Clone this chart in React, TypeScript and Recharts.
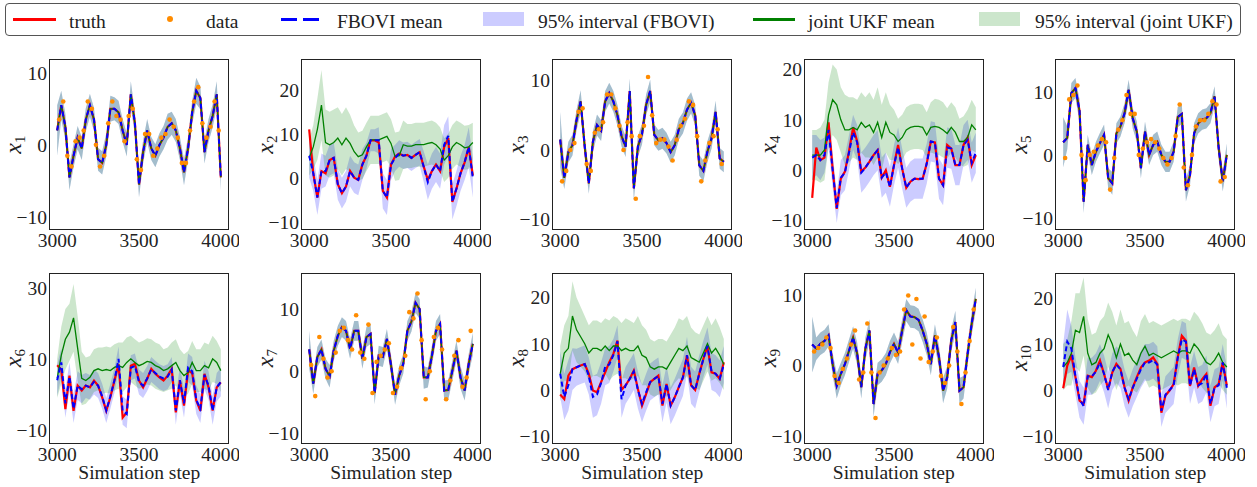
import React from 'react';
import { ComposedChart, Area, Line, Scatter, XAxis, YAxis } from 'recharts';

const FONT = '"Liberation Serif", "DejaVu Serif", serif';

// simulation steps sampled every 25 steps
const STEPS = [
  3000, 3025, 3050, 3075, 3100, 3125, 3150, 3175, 3200, 3225, 3250, 3275, 3300, 3325,
  3350, 3375, 3400, 3425, 3450, 3475, 3500, 3525, 3550, 3575, 3600, 3625, 3650, 3675,
  3700, 3725, 3750, 3775, 3800, 3825, 3850, 3875, 3900, 3925, 3950, 3975, 4000,
];
// steps of the observations shown as dots
const OBS_STEPS = [
  3012, 3037, 3062, 3087, 3112, 3137, 3162, 3187, 3212, 3237, 3262, 3287, 3312, 3337,
  3362, 3387, 3412, 3437, 3462, 3487, 3512, 3537, 3562, 3587, 3612, 3637, 3662, 3687,
  3712, 3737, 3762, 3787, 3812, 3837, 3862, 3887, 3912, 3937, 3962, 3987,
];
const X_TICKS = [3000, 3500, 4000];

// x1 (observed)
const X1_TRUTH = [2, 5.5, 2.5, -4.5, -1.5, 1, -0.5, 3.5, 5.5, 3.5, -2, -2.5, 0, 5, 5, 4.5, 2, 0, 7, 3, -5.5, -1, 2, -0.5, -1.5, 0, 1, 2.5, 3, 2, -0.5, -3.8, -0.5, 4.5, 7.5, 6.5, -1, 2, 4, 7, -4.5];
const X1_OBS = [3.5, 6, -1.5, -3, 0.5, 1, 2, 6, 5, 0, -3, -1.5, 3, 6, 4, 3.5, 0.5, 4, 5, -2, -3.5, 1.5, 1.5, -1.5, -0.5, 1, 1.5, 3.5, 2.5, 1, -2.5, -2.5, 2, 6, 8, 3, 1, 2.5, 6, 2];
const X1_HALF = [3.5, 2, 1.8, 1.8, 1.6, 1.6, 1.6, 1.6, 1.6, 1.6, 1.6, 1.6, 1.6, 1.8, 1.6, 1.6, 1.6, 1.6, 1.8, 1.6, 1.8, 1.6, 1.6, 1.6, 1.6, 1.6, 1.6, 1.8, 1.6, 1.6, 1.6, 1.8, 1.6, 1.6, 1.8, 1.6, 1.6, 1.6, 1.6, 1.8, 1.8];

// x2 (unobserved)
const X2_TRUTH = [11, 1, -4.5, 1.5, 1, 4, 4.5, -1.5, -3.5, -2, 1.5, 0, -0.5, 3, 5, 8.5, 8.5, 8, -3, -4.5, 3, 4.8, 5.5, 5, 5.2, 4.5, 5.2, 5.8, 2.5, -0.5, 1.5, 3, 1.5, 7, 9, -5.5, -2.5, 1, 3.5, 7, 0.5];
const X2_FB = [5, 1, -4.5, 1.5, 1.5, 4, 4.5, -1.5, -3.5, -2, 1.5, 0, -0.5, 3, 5, 8.5, 8.5, 8.5, -3, -4.5, 3, 4.5, 5.5, 5, 5.2, 4.5, 5.2, 5.8, 2.5, -1, 1.5, 3, 1.5, 7.5, 9.5, -5.5, -2.5, 1, 3.5, 7, 0];
const X2_FB_HALF = [5, 4, 4, 4, 3.5, 3.5, 3.5, 3.5, 3.5, 3.5, 3.5, 3.5, 3.5, 3.5, 3, 2.5, 2.5, 3, 4, 4, 3.5, 3, 3, 3, 3, 3, 3, 3, 3.5, 4, 4, 4, 4, 4.5, 4.5, 4, 4, 4, 4, 4.5, 4.5];
const X2_UKF = [4.5, 7, 11, 16.5, 8, 7.5, 8, 9, 7.5, 9, 7.8, 5.9, 4.8, 5.2, 7, 8.6, 8.6, 8.6, 9, 9.4, 7.8, 4.8, 5, 7.5, 7.2, 7.2, 7.5, 7.5, 7.5, 7.8, 8, 7.5, 6.5, 4, 5, 7, 8, 7.5, 6.8, 7, 8];
const X2_UKF_HALF = [4, 5, 7, 8, 7.5, 7.5, 7.5, 7, 7, 7, 6.5, 6, 5.5, 5.5, 5.5, 5.5, 5.5, 5.5, 5.5, 5.5, 5.5, 5.5, 5.5, 5.5, 5, 5, 5, 5, 5, 5, 5, 5, 5, 5, 5, 5, 5, 5, 5, 5, 4.5];

// x3 (observed)
const X3_TRUTH = [1.5, -4, -0.3, 0.7, 4.3, 7, 0.5, -4.8, 1.2, 3.6, 2.8, 7, 8.2, 7, 5, 2, 0.5, 8.5, -5.5, 0.5, 2.3, 6.5, 8.5, 2.2, 1.4, 1.7, 1, -0.3, 0.7, 3, 3.9, 5.8, 6.8, 5, -2.2, -3, -0.2, 1.7, 5.5, -1.2, -1.7];
const X3_OBS = [-4.5, -3, 0, 1, 5.5, 6, -2, -3, 2.5, 3, 4, 8, 8, 6, 3.5, 0, 4, 2, -7, 2, 3.5, 10.5, 5, 1, 1.5, 1.5, 0.5, -1.5, 1.5, 3.5, 4.5, 7, 6.5, 2, -4.5, -1.5, 1, 2, 3, -2];
const X3_HALF = [4, 1.6, 1.5, 1.5, 1.5, 1.6, 1.6, 1.5, 1.5, 1.5, 1.5, 1.5, 1.5, 1.5, 1.5, 1.5, 1.5, 1.8, 1.8, 1.5, 1.5, 1.5, 1.6, 1.5, 1.5, 1.5, 1.5, 1.5, 1.5, 1.5, 1.5, 1.6, 1.5, 1.5, 1.5, 1.5, 1.5, 1.5, 1.6, 1.5, 1.5];

// x4 (unobserved)
const X4_TRUTH = [-5.5, 4.5, 2, 2.5, 9.5, 0.3, -7.7, -1.7, -0.3, 3.7, 8.5, 5.7, -0.3, 0.5, 1.7, 3, 4, -1.5, 0, -3.3, 1, 5, 0.3, -3.5, -2.3, -1.7, -1.8, -1.7, 1.3, 5.7, 5.5, -1.7, -3, 5, 4.3, 1, 1, 5, 6.5, 1, 3];
const X4_FB = [2.5, 3, 2, 3, 8, 0, -7.5, -1.5, -0.5, 3.5, 7.5, 5.5, -0.5, 0.5, 1.7, 3, 4, -1.5, -0.5, -3.3, 1, 4.5, 0.3, -3.5, -2.3, -1.7, -1.7, -1.7, 1.3, 5.7, 5.5, -1.7, -3, 4.5, 4.3, 1, 1, 5, 6, 1.5, 3.5];
const X4_FB_HALF = [4.5, 4, 4, 3.5, 3.5, 3.5, 3, 3.5, 3.5, 3.5, 3.5, 3.5, 4, 4, 4, 4, 4, 4, 4, 4, 4, 4, 4, 4, 4, 4, 4, 4, 4, 4, 4, 4, 4, 4, 4, 4, 4, 4, 4, 4, 4];
const X4_UKF = [3, 3, 3, 4, 11, 14, 13, 10, 8, 8, 8.5, 8, 9.5, 8.5, 9, 7.5, 9.5, 6.5, 9.5, 7.5, 7, 5.7, 6.5, 8, 8.5, 8.7, 8.7, 8.5, 7, 8.5, 8.7, 8.5, 8, 7.3, 8.5, 7.5, 5.7, 5.7, 6.5, 9, 8];
const X4_UKF_HALF = [5, 5, 5.5, 6, 6.5, 7, 7, 6.5, 7, 6.5, 6, 6, 6, 6, 6.5, 6.5, 7, 6.5, 6, 5.5, 5, 4.5, 4.5, 4.5, 4.5, 4.5, 4.5, 4.5, 4.5, 5, 5.5, 5.5, 5.5, 5, 5, 5, 4.5, 5, 5.5, 5, 4.5];

// x5 (observed)
const X5_TRUTH = [2, 2.7, 9.8, 10.6, 7, -7.4, 1.6, -1.6, 0.5, 1.9, 3.2, -3.7, -4.5, 3.4, 4.5, 6.6, 10.3, 5.8, 3.7, -2.1, 3.7, 0, 1.6, 2.1, 0, -1.1, -1.1, 0.5, 6, 6.5, -5.6, -3.2, 3.4, 5, 5.6, 5.8, 6.6, 9.3, 1.1, -4.2, 0];
const X5_OBS = [-0.5, 8.8, 9.5, 11, 0, -4, 0, 0.5, 1.5, 2.5, 2, -5.5, -0.5, 4, 5.5, 9.5, 6.5, 6.5, 0, 1, 2, 2.5, 2, 1, -0.5, -1.5, -0.5, 3, 8, -2, -4.8, 0, 4.5, 5.5, 5.5, 6.5, 8.5, 8, -4.2, -3.5];
const X5_HALF = [4, 1.8, 1.6, 1.6, 1.8, 1.8, 1.6, 1.6, 1.6, 1.6, 1.6, 1.6, 1.8, 1.6, 1.6, 1.6, 1.6, 1.6, 1.6, 1.6, 1.6, 1.6, 1.6, 1.6, 1.6, 1.6, 1.6, 1.6, 1.6, 1.6, 1.8, 1.6, 1.6, 1.6, 1.6, 1.6, 1.6, 1.6, 1.8, 1.6, 1.8];

// x6 (unobserved)
const X6_TRUTH = [8.2, 7, -4.1, 5.3, -4.6, 2.5, 1.1, 2.5, 2, 3.9, 2.5, -0.8, -4.6, -0.8, 3.9, 8.5, -6.5, -5, 8.1, 8.6, 3.9, 2, 4.4, 7.2, 5.8, 4.8, 3.9, 5.3, 7.2, -5, 3.9, -3.1, 6.7, 6, -1.7, -4.6, 5.8, 2, -4.5, 2, 3.4];
const X6_FB = [4, 9, -2.5, 5, -4, 2.5, 1.5, 2.5, 2, 3.5, 2.5, -0.5, -4.5, -0.5, 4, 10, -4.5, -5.5, 7.5, 8, 3.5, 2.5, 4.5, 7, 6, 5, 4.5, 5, 7, -4.5, 4, -2.5, 7.5, 6.5, -1.5, -4, 5.5, 2.5, -4.5, 2, 3.5];
const X6_FB_HALF = [4.5, 4, 4, 4, 4, 4, 4, 3.5, 3.5, 3.5, 3.5, 3.5, 3.5, 3.5, 3.5, 3.5, 4, 4, 3.5, 3.5, 3.5, 3.5, 3.5, 3.5, 3.5, 3.5, 3.5, 3.5, 3.5, 4, 4, 4, 4, 4, 4, 4, 4, 4, 4, 4, 4];
const X6_UKF = [4.5, 11, 15.5, 17.5, 21.5, 13, 4.5, 3.9, 4.8, 6.7, 7.2, 6.7, 7, 6.7, 7.6, 8.1, 7.6, 9, 10, 9, 8.1, 8.6, 9.3, 9, 8.1, 7.6, 6.7, 7.2, 8.1, 9, 6.7, 5.3, 6.2, 9, 6.7, 6.7, 8.1, 7.5, 10, 9, 6.7];
const X6_UKF_HALF = [5.5, 8, 8.5, 8, 9.5, 9, 7.5, 6.5, 6, 6, 6, 6.5, 6.5, 6.5, 6.5, 6.5, 7, 7, 6.5, 6.5, 6.5, 6.5, 6.5, 6.5, 6.5, 6.5, 6, 6, 6.5, 6.5, 6, 6, 6, 6, 6, 6, 6.5, 6.5, 6.5, 6, 6];

// x7 (observed)
const X7_TRUTH = [3.5, -2, 2.3, 3.5, 0.4, -0.8, 3.3, 5.7, 7.1, 6.5, 3.6, 6.5, 6.5, 2, 5.5, 6, -3.5, 2.5, 2.3, 5.2, 1, -3.8, -0.7, 1.2, 6.5, 8, 11, 10, -1, -1, 2.5, 6.5, 7.6, -3.1, -3, 0.1, 3.3, -1, -3.1, 1.2, 4.4];
const X7_OBS = [1, -4, 5.5, 2, -1, 0, 3, 6.5, 7, 5, 3.5, 9, 3, 2, 7.5, -3.5, 1.5, 2.5, 3.5, 4.5, -3.5, -2.5, 0.5, 2.5, 9.5, 8.5, 12.5, 5, -4.5, 0, 5.5, 7, 3.5, -4.5, -1.5, 2.5, 5, -2.5, -1, 6.5];
const X7_HALF = [3, 1.6, 1.6, 1.6, 1.6, 1.8, 1.6, 1.6, 1.6, 1.6, 1.6, 1.6, 1.6, 1.6, 1.6, 1.6, 1.8, 1.6, 1.6, 1.6, 1.6, 1.6, 1.6, 1.6, 1.6, 1.6, 1.6, 1.6, 1.8, 1.6, 1.6, 1.6, 1.6, 1.6, 1.6, 1.6, 1.6, 1.8, 1.6, 1.6, 1.8];

// x8 (unobserved)
const X8_TRUTH = [-1, -2, 3.1, 4.5, 4.9, 5.3, 5.6, 3.5, -0.1, -0.5, 1.7, 3.8, 6, 7.8, 10.7, 0, 1, 2.4, 4.2, 0.2, -3.4, -0.9, 1.7, 2.4, 3.1, -3.4, 1.3, -3.4, -1.6, 0.6, 2.7, 7.5, 1, 0, 3.5, 6.7, 9.5, 3.8, 3.5, 2.4, 6];
const X8_FB = [3.5, -1.5, 1, 4.5, 4.9, 5.3, 5.6, 3, -1.5, -1, 1.5, 5, 5.5, 7.5, 10.5, -2, 1, 2.4, 4, 0, -3, -0.5, 1.7, 2.4, 3, -3, 1.3, -3.4, -1.6, 0.6, 2.7, 7.5, 1, 0, 3.5, 6.7, 9.5, 4, 3.5, 2.4, 5.5];
const X8_FB_HALF = [5, 5, 5.5, 4.5, 4, 4, 4, 4, 4.5, 4.5, 4.5, 4, 4, 3.5, 3.5, 4, 4, 4, 4, 4, 4, 4, 4, 4, 4, 4, 4, 4, 4, 4, 4, 4, 4, 4, 4, 4, 4, 4, 4, 4, 4];
const X8_UKF = [3.5, 8, 9, 16, 13, 11.5, 10, 8, 9, 9, 8.5, 9.5, 8.5, 9.5, 9.5, 8.5, 9, 8.5, 8.5, 9.5, 7.5, 7, 5, 4.5, 5, 5, 4.5, 6, 7.5, 9, 8.5, 9.5, 7, 6.5, 6, 8, 10, 8, 9, 7.5, 5.5];
const X8_UKF_HALF = [6, 6, 7, 7.5, 7, 6.5, 6, 6, 6, 6, 6, 6, 6.5, 6.5, 6, 6, 6.5, 6.5, 6, 6.5, 6.5, 6, 6, 6, 6, 6, 6, 6, 6, 6.5, 6.5, 6.5, 6.5, 6, 6, 6, 6, 6, 6.5, 6, 5.5];

// x9 (observed)
const X9_TRUTH = [3, 2.4, 3.1, 3.5, 4.3, 0.2, -2.9, -1.2, 0.2, 2.1, 4, 1.7, -3.1, 2.4, 5, -5.5, -1.2, -0.7, 0.2, 1.9, 3.1, 1.8, 5, 7.9, 7, 6.9, 6.5, 5, 3.1, 0.2, 4.3, 1.2, -3.6, -1.7, 3.6, 6.2, -3.6, -3.1, 1.7, 6, 9.5];
const X9_OBS = [2, 2.5, 3, 4, 2.5, -1.5, -2.5, -0.5, 1, 3, 5, -2, -1, 6, -1, -7.5, -1, 0, 1, 2.5, 1.5, 2, 8, 10, 3, 9.5, 1, 7, 0.5, 2, 4, -1.5, -2.5, 0, 5.5, 2, -5.5, -1, 3.5, 8];
const X9_HALF = [4, 1.6, 1.6, 1.6, 1.6, 1.6, 1.8, 1.6, 1.6, 1.6, 1.6, 1.6, 1.6, 1.6, 1.6, 1.8, 1.6, 1.6, 1.6, 1.6, 1.6, 1.6, 1.6, 1.6, 1.6, 1.6, 1.6, 1.6, 1.6, 1.6, 1.6, 1.6, 1.8, 1.6, 1.6, 1.6, 1.8, 1.6, 1.6, 1.6, 1.6];

// x10 (unobserved)
const X10_TRUTH = [0.4, 5.3, 7.5, 2.8, -2.3, -3, 3.1, 2.8, 4.2, 6.4, 3.5, 0.2, 3.8, 5.7, 4.6, 0.6, -2.3, 0.6, 2.8, 4.9, 6, 6.4, 7.1, 5.7, -4.9, -1.2, -0.1, 1.3, 7.1, 11.8, 10.7, 0.9, 4.9, 0.9, 2.4, 3.5, -3.4, 0.6, 1.3, 6, 1];
const X10_FB = [5, 10.5, 9, 3, -2, -3.5, 3, 3, 4, 6, 3.5, 0, 4, 5.5, 4.5, 0.5, -2, 0.5, 2.5, 4.5, 6, 6, 6.5, 5.5, -4.5, -1, 0, 1, 7, 11, 10.5, 1, 4.5, 1, 1.5, 3.5, -3, 0.5, 1, 6, 0.5];
const X10_FB_HALF = [5, 7, 5, 4, 4, 4, 4, 4, 4, 4, 4, 4, 4, 4, 4, 4, 4, 4, 4, 4, 4, 4, 4, 4, 3.5, 4, 4, 4, 4, 4, 4, 4, 4, 4, 4, 4, 4, 4, 4, 4, 4.5];
const X10_UKF = [5, 6, 8, 13, 12.5, 16, 8, 5.5, 6, 8, 9, 12, 10, 7, 10, 7.5, 8, 6.5, 5.5, 8, 9.5, 7.5, 8, 7.5, 7, 7.5, 8, 8.5, 8, 8.5, 8.5, 8, 10, 9, 7.5, 6, 5.5, 6.5, 8, 6, 5];
const X10_UKF_HALF = [5, 5, 7, 8, 8.5, 8.5, 7.5, 6.5, 6.5, 7, 7, 7, 7, 7, 7.5, 7, 7, 6.5, 6, 7, 7, 7, 7, 7, 7, 7, 7, 7, 7, 7, 7, 7, 7, 7, 7, 6.5, 6.5, 6.5, 6.5, 6, 6];

const COL_LEFT = [49.3, 301.3, 552.3, 803.8, 1055.3];
const ROW_TOP = [59.2, 272.6];
const BOX_W = 180;
const BOX_H = 171;

type PanelDef = {
  sub: string;
  col: number;
  row: number;
  domain: [number, number];
  ticks: number[];
  truth: number[];
  fbMean: number[];
  fbHalf: number[];
  ukfMean: number[];
  ukfHalf: number[];
  obs?: number[];
};

const PANELS: PanelDef[] = [
  { sub: '1', col: 0, row: 0, domain: [-11.8, 11.9], ticks: [-10, 0, 10], truth: X1_TRUTH, fbMean: X1_TRUTH, fbHalf: X1_HALF, ukfMean: X1_TRUTH, ukfHalf: X1_HALF, obs: X1_OBS },
  { sub: '2', col: 1, row: 0, domain: [-11.9, 27], ticks: [-10, 0, 10, 20], truth: X2_TRUTH, fbMean: X2_FB, fbHalf: X2_FB_HALF, ukfMean: X2_UKF, ukfHalf: X2_UKF_HALF },
  { sub: '3', col: 2, row: 0, domain: [-11.5, 13.1], ticks: [-10, 0, 10], truth: X3_TRUTH, fbMean: X3_TRUTH, fbHalf: X3_HALF, ukfMean: X3_TRUTH, ukfHalf: X3_HALF, obs: X3_OBS },
  { sub: '4', col: 3, row: 0, domain: [-11.9, 22.1], ticks: [-10, 0, 10, 20], truth: X4_TRUTH, fbMean: X4_FB, fbHalf: X4_FB_HALF, ukfMean: X4_UKF, ukfHalf: X4_UKF_HALF },
  { sub: '5', col: 4, row: 0, domain: [-11.9, 15.2], ticks: [-10, 0, 10], truth: X5_TRUTH, fbMean: X5_TRUTH, fbHalf: X5_HALF, ukfMean: X5_TRUTH, ukfHalf: X5_HALF, obs: X5_OBS },
  { sub: '6', col: 0, row: 1, domain: [-13.9, 34.1], ticks: [-10, 10, 30], truth: X6_TRUTH, fbMean: X6_FB, fbHalf: X6_FB_HALF, ukfMean: X6_UKF, ukfHalf: X6_UKF_HALF },
  { sub: '7', col: 1, row: 1, domain: [-11.7, 15.8], ticks: [-10, 0, 10], truth: X7_TRUTH, fbMean: X7_TRUTH, fbHalf: X7_HALF, ukfMean: X7_TRUTH, ukfHalf: X7_HALF, obs: X7_OBS },
  { sub: '8', col: 2, row: 1, domain: [-11.7, 25.3], ticks: [-10, 0, 10, 20], truth: X8_TRUTH, fbMean: X8_FB, fbHalf: X8_FB_HALF, ukfMean: X8_UKF, ukfHalf: X8_UKF_HALF },
  { sub: '9', col: 3, row: 1, domain: [-11.2, 13.2], ticks: [-10, 0, 10], truth: X9_TRUTH, fbMean: X9_TRUTH, fbHalf: X9_HALF, ukfMean: X9_TRUTH, ukfHalf: X9_HALF, obs: X9_OBS },
  { sub: '10', col: 4, row: 1, domain: [-11.7, 25.4], ticks: [-10, 0, 10, 20], truth: X10_TRUTH, fbMean: X10_FB, fbHalf: X10_FB_HALF, ukfMean: X10_UKF, ukfHalf: X10_UKF_HALF },
];

const TICK = { fontSize: 19.5, fill: '#222', fontFamily: FONT };
const fmt = (v: number) => (v < 0 ? '\u2212' + Math.abs(v) : String(v));

const dotShape = (props: any) => (
  <circle cx={props.cx} cy={props.cy} r={2.3} fill="#ff8c00" />
);

function Panel({ p }: { p: PanelDef }) {
  const rows = STEPS.map((step, i) => {
    const fm = p.fbMean[i];
    const um = p.ukfMean[i];
    return {
      step,
      truth: p.truth[i],
      fb: fm,
      fbBand: [fm - p.fbHalf[i], fm + p.fbHalf[i]],
      ukf: um,
      ukfBand: [um - p.ukfHalf[i], um + p.ukfHalf[i]],
    };
  });
  const obsRows = p.obs ? OBS_STEPS.map((step, i) => ({ step, obs: p.obs![i] })) : [];
  const left = COL_LEFT[p.col];
  const top = ROW_TOP[p.row];

  return (
    <div style={{ position: 'absolute', left: left - 60, top: top - 10 }}>
      <ComposedChart width={250} height={231} data={rows} margin={{ top: 10, right: 10, bottom: 0, left: 0 }}>
        <XAxis
          dataKey="step"
          type="number"
          domain={[2950, 4050]}
          ticks={X_TICKS}
          allowDataOverflow
          interval={0}
          tickLine={false}
          axisLine={false}
          tickSize={0}
          tickMargin={3}
          height={50}
          tick={TICK}
        />
        <YAxis
          type="number"
          domain={p.domain}
          ticks={p.ticks}
          allowDataOverflow
          interval={0}
          tickLine={false}
          axisLine={false}
          tickSize={0}
          tickMargin={2}
          width={60}
          tick={TICK}
          tickFormatter={fmt}
        />
        <Area type="linear" dataKey="fbBand" stroke="none" fill="#0000ff" fillOpacity={0.2} isAnimationActive={false} />
        <Area type="linear" dataKey="ukfBand" stroke="none" fill="#008000" fillOpacity={0.2} isAnimationActive={false} />
        <Line type="linear" dataKey="truth" stroke="#ff0000" strokeWidth={2.2} dot={false} isAnimationActive={false} />
        <Line type="linear" dataKey="ukf" stroke="#008000" strokeWidth={1.3} dot={false} isAnimationActive={false} />
        <Line type="linear" dataKey="fb" stroke="#0000ff" strokeWidth={2} strokeDasharray="5 3" dot={false} isAnimationActive={false} />
        {p.obs && (
          <Scatter data={obsRows} dataKey="obs" shape={dotShape} isAnimationActive={false} />
        )}
      </ComposedChart>
    </div>
  );
}

function Legend() {
  const text = { position: 'absolute' as const, top: 7, fontSize: 19.5, fontFamily: FONT, color: '#222', lineHeight: '22px' };
  return (
    <div style={{ position: 'absolute', left: 5, top: 3, width: 1236, height: 33, border: '1px solid #555', borderRadius: 4, boxSizing: 'border-box' }}>
      <div style={{ position: 'absolute', left: 7, top: 13.5, width: 43, height: 3, background: '#ff0000' }} />
      <div style={{ ...text, left: 63 }}>truth</div>
      <div style={{ position: 'absolute', left: 161, top: 12, width: 6, height: 6, borderRadius: 3, background: '#ff8c00' }} />
      <div style={{ ...text, left: 200 }}>data</div>
      <div style={{ position: 'absolute', left: 275, top: 13.5, width: 16, height: 3, background: '#0000ff' }} />
      <div style={{ position: 'absolute', left: 297, top: 13.5, width: 16, height: 3, background: '#0000ff' }} />
      <div style={{ ...text, left: 331 }}>FBOVI mean</div>
      <div style={{ position: 'absolute', left: 477, top: 8, width: 41, height: 14, background: '#ccccff' }} />
      <div style={{ ...text, left: 532 }}>95% interval (FBOVI)</div>
      <div style={{ position: 'absolute', left: 747, top: 13.5, width: 42, height: 3, background: '#008000' }} />
      <div style={{ ...text, left: 802 }}>joint UKF mean</div>
      <div style={{ position: 'absolute', left: 973, top: 8, width: 41, height: 14, background: '#cce6cc' }} />
      <div style={{ ...text, left: 1029 }}>95% interval (joint UKF)</div>
    </div>
  );
}

export default function App() {
  return (
    <div style={{ position: 'absolute', left: 0, top: 0, width: 1257, height: 487, background: '#fff', overflow: 'hidden' }}>
      <Legend />
      {PANELS.map((p) => (
        <Panel key={p.sub} p={p} />
      ))}
      {PANELS.map((p) => (
        <div
          key={'frame' + p.sub}
          style={{
            position: 'absolute',
            left: COL_LEFT[p.col],
            top: ROW_TOP[p.row],
            width: BOX_W,
            height: BOX_H,
            border: '1.2px solid #222',
            boxSizing: 'border-box',
          }}
        />
      ))}
      <svg width={1257} height={487} style={{ position: 'absolute', left: 0, top: 0, pointerEvents: 'none' }}>
        {PANELS.map((p) => (
          <text
            key={'yl' + p.sub}
            transform={`translate(${COL_LEFT[p.col] - 28},${ROW_TOP[p.row] + BOX_H / 2}) rotate(-90)`}
            textAnchor="middle"
            fontFamily={FONT}
            fontSize={24}
            fill="#222"
          >
            <tspan fontStyle="italic">x</tspan>
            <tspan fontSize={15} dy={4}>{p.sub}</tspan>
          </text>
        ))}
        {COL_LEFT.map((l, i) => (
          <text key={'xl' + i} x={l + BOX_W / 2} y={479} textAnchor="middle" fontFamily={FONT} fontSize={19.5} fill="#222">
            Simulation step
          </text>
        ))}
      </svg>
    </div>
  );
}
